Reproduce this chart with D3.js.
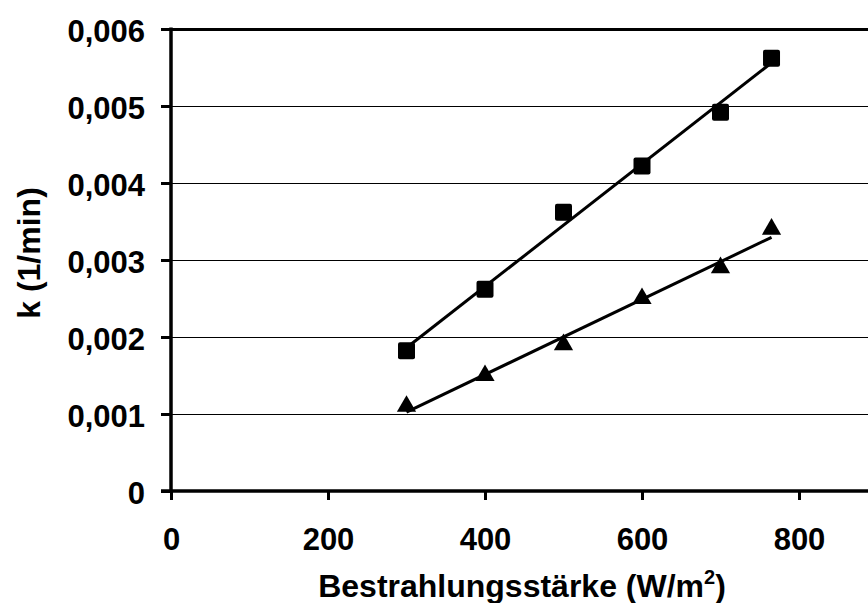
<!DOCTYPE html>
<html>
<head>
<meta charset="utf-8">
<script src="https://cdn.jsdelivr.net/npm/d3@7"></script>
<style>
  body { margin: 0; background: #fff; }
  svg { display: block; }
  text { font-family: "Liberation Sans", Arial, sans-serif; font-weight: bold; fill: #000; }
</style>
</head>
<body>
<div id="chart"></div>
<script>
// irradiance (W/m2)
const irradiance = [300, 400, 500, 600, 700, 765];
// rate constants k (1/min)
const kSquares = [0.00182, 0.00262, 0.00362, 0.00422, 0.00492, 0.00562];
const kTriangles = [0.0011, 0.0015, 0.0019, 0.0025, 0.0029, 0.0034];
const xTicks = [0, 200, 400, 600, 800, 1000];
const yTicks = [0, 0.001, 0.002, 0.003, 0.004, 0.005, 0.006];

window.addEventListener('load', drawChart);

function drawChart() {
  let width = 868, height = 603;
  let margin = {left: 171, top: 29};
  let plotW = 785, plotH = 462;

  let x = d3.scaleLinear().domain([0, 1000]).range([margin.left, margin.left + plotW]);
  let y = d3.scaleLinear().domain([0, 0.006]).range([margin.top + plotH, margin.top]);

  const svg = d3.select("#chart")
    .append("svg")
    .attr("width", width)
    .attr("height", height);

  // gridlines
  svg.append("g")
    .attr("shape-rendering", "crispEdges")
    .selectAll("line")
    .data(yTicks.filter(d => d > 0))
    .join("line")
      .attr("x1", x(0))
      .attr("x2", x(1000))
      .attr("y1", d => Math.round(y(d)) + 0.5)
      .attr("y2", d => Math.round(y(d)) + 0.5)
      .attr("stroke", "#000")
      .attr("stroke-width", d => d === 0.006 ? 3 : 1);

  // y axis
  const fmt = d => d === 0 ? "0" : d3.format(".3f")(d).replace(".", ",");
  const yAxis = svg.append("g")
    .attr("transform", `translate(${x(0)},0)`)
    .call(d3.axisLeft(y).tickValues(yTicks).tickFormat(fmt).tickSize(10).tickPadding(16));
  yAxis.select(".domain").attr("stroke-width", 3.5).attr("d", `M0,${y(0)}V${y(0.006) - 1.5}`);
  yAxis.selectAll(".tick line").attr("stroke-width", 3);
  yAxis.selectAll(".tick text").attr("font-size", 31).attr("dy", "0.4em");

  // x axis (1000 lies outside the visible picture)
  const xAxis = svg.append("g")
    .attr("transform", `translate(0,${y(0)})`)
    .call(d3.axisBottom(x).tickValues(xTicks).tickFormat(d => d < 1000 ? d3.format("d")(d) : "").tickSize(9).tickPadding(28));
  xAxis.select(".domain").attr("stroke-width", 3.5).attr("d", `M${x(0) - 10},0H${x(1000)}`);
  xAxis.selectAll(".tick line").attr("stroke-width", 3);
  xAxis.selectAll(".tick text").attr("font-size", 31).attr("dy", "0.71em");

  // trendlines (least squares)
  function fit(xs, ys) {
    const mx = d3.mean(xs), my = d3.mean(ys);
    const slope = d3.sum(xs, (v, i) => (v - mx) * (ys[i] - my)) / d3.sum(xs, v => (v - mx) ** 2);
    return v => my + slope * (v - mx);
  }
  const line = d3.line().x(d => x(d[0])).y(d => y(d[1]));
  [kSquares, kTriangles].forEach(series => {
    const f = fit(irradiance, series);
    const ends = d3.extent(irradiance).map(v => [v, f(v)]);
    svg.append("path")
      .attr("d", line(ends))
      .attr("fill", "none")
      .attr("stroke", "#000")
      .attr("stroke-width", 3);
  });

  // markers
  const pts = (series) => irradiance.map((v, i) => [v, series[i]]);
  svg.append("g")
    .selectAll("rect")
    .data(pts(kSquares))
    .join("rect")
      .attr("x", d => x(d[0]) - 8.5)
      .attr("y", d => y(d[1]) - 8.5)
      .attr("width", 17)
      .attr("height", 17)
      .attr("rx", 2)
      .attr("fill", "#000");

  const tri = d3.symbol().type(d3.symbolTriangle).size(160);
  svg.append("g")
    .selectAll("path")
    .data(pts(kTriangles))
    .join("path")
      .attr("transform", d => `translate(${x(d[0])},${y(d[1])})`)
      .attr("d", tri)
      .attr("fill", "#000");

  // axis titles
  const xt = svg.append("text")
    .attr("x", 522)
    .attr("y", 597)
    .attr("text-anchor", "middle")
    .attr("font-size", 32);
  xt.append("tspan").text("Bestrahlungsstärke (W/m");
  xt.append("tspan").attr("font-size", 20).attr("dy", -13).text("2");
  xt.append("tspan").attr("dy", 13).text(")");

  svg.append("text")
    .attr("transform", `translate(40,253) rotate(-90)`)
    .attr("text-anchor", "middle")
    .attr("font-size", 32)
    .text("k (1/min)");
}
</script>
</body>
</html>
